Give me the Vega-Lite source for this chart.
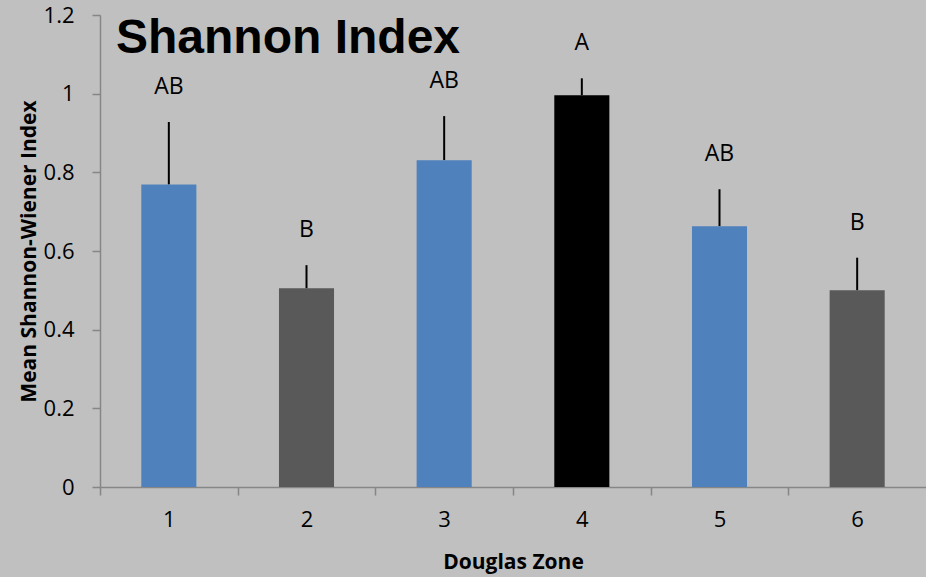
{
  "$schema": "https://vega.github.io/schema/vega-lite/v6.json",
  "autosize": "none",
  "width": 826,
  "height": 472,
  "padding": {"left": 100, "top": 15, "right": 0, "bottom": 90},
  "background": "#c0c0c0",
  "config": {
    "view": {"stroke": null},
    "font": "Open Sans",
    "axisX": {
      "titleFontSize": 21,
      "titleFontWeight": "bold",
      "titleColor": "#000000",
      "titlePadding": 21,
      "labelAngle": 0,
      "labelFontSize": 22,
      "labelColor": "#000000",
      "labelPadding": 14,
      "tickSize": 8,
      "tickColor": "#868686",
      "tickWidth": 1.5,
      "domainColor": "#868686",
      "domainWidth": 1.5
    },
    "axisY": {
      "titleFontSize": 21,
      "titleFontWeight": "bold",
      "titleColor": "#000000",
      "titlePadding": 4,
      "grid": false,
      "labelFontSize": 22,
      "labelColor": "#000000",
      "labelPadding": 18,
      "tickSize": 8,
      "tickColor": "#868686",
      "tickWidth": 1.5,
      "domainColor": "#868686",
      "domainWidth": 1.5
    }
  },
  "title": {
    "text": "Shannon Index",
    "anchor": "start",
    "frame": "group",
    "orient": "top",
    "font": "Liberation Sans",
    "fontSize": 48,
    "fontWeight": "bold",
    "color": "#000000",
    "baseline": "alphabetic",
    "offset": -43,
    "dx": 16,
    "dy": 54
  },
  "data": {
    "values": [
      {"zone": "1", "mean": 0.769, "upper": 0.928, "group": "AB", "kind": "blue"},
      {"zone": "2", "mean": 0.505, "upper": 0.564, "group": "B", "kind": "gray"},
      {"zone": "3", "mean": 0.831, "upper": 0.943, "group": "AB", "kind": "blue"},
      {"zone": "4", "mean": 0.996, "upper": 1.039, "group": "A", "kind": "black"},
      {"zone": "5", "mean": 0.663, "upper": 0.757, "group": "AB", "kind": "blue"},
      {"zone": "6", "mean": 0.5, "upper": 0.583, "group": "B", "kind": "gray"}
    ]
  },
  "encoding": {
    "x": {
      "field": "zone",
      "type": "ordinal",
      "title": "Douglas Zone",
      "scale": {"paddingInner": 0.6, "paddingOuter": 0.3},
      "axis": {"tickOffset": -68.83, "labelOffset": 68.83}
    }
  },
  "layer": [
    {
      "mark": {"type": "rule", "color": "#000000", "strokeWidth": 2},
      "encoding": {
        "y": {
          "field": "mean",
          "type": "quantitative",
          "title": "Mean Shannon-Wiener Index",
          "scale": {"domain": [0, 1.2], "nice": false},
          "axis": {"values": [0, 0.2, 0.4, 0.6, 0.8, 1, 1.2], "format": "~g"}
        },
        "y2": {"field": "upper"}
      }
    },
    {
      "mark": {"type": "bar"},
      "encoding": {
        "y": {"field": "mean", "type": "quantitative", "title": "Mean Shannon-Wiener Index"},
        "color": {
          "field": "kind",
          "type": "nominal",
          "scale": {"domain": ["blue", "gray", "black"], "range": ["#4f81bd", "#595959", "#000000"]},
          "legend": null
        }
      }
    },
    {
      "mark": {"type": "text", "fontSize": 23, "dy": -35, "color": "#000000"},
      "encoding": {
        "y": {"field": "upper", "type": "quantitative", "title": "Mean Shannon-Wiener Index"},
        "text": {"field": "group"}
      }
    }
  ]
}
